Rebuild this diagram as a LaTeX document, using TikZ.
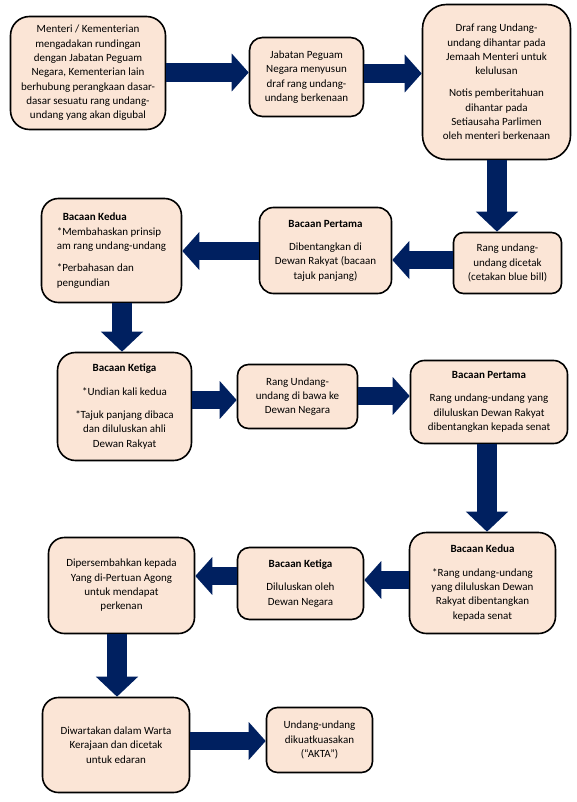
\documentclass[tikz,border=0pt]{standalone}
\usepackage{fontspec}
\setmainfont{Carlito}
\usetikzlibrary{arrows.meta}
\definecolor{navy}{HTML}{002060}
\definecolor{peach}{HTML}{FBE5D6}

\begin{document}
\begin{tikzpicture}[x=1pt,y=-1pt,
 box/.style={draw=black,line width=1.6pt,rounded corners=#1,fill=peach,align=center,
 font=\fontsize{11}{14.3}\selectfont,inner sep=0pt},
 box/.default=12pt,
 flowh/.style={draw=navy,line width=18.5pt,-{Triangle[width=37pt,length=17pt]}},
 flowv/.style={draw=navy,line width=20pt,-{Triangle[width=41pt,length=20pt]}}]
\useasboundingbox (0,0) rectangle (576,802);
\node[box=19pt,minimum width=155pt,minimum height=113pt] (menteri) at (88,73)
 {Menteri / Kementerian\\mengadakan rundingan\\dengan Jabatan Peguam\\Negara, Kementerian lain\\berhubung perangkaan dasar-\\dasar sesuatu rang undang-\\undang yang akan digubal};
\node[box=13pt,minimum width=114pt,minimum height=79pt] (jabatan) at (306.5,77)
 {Jabatan Peguam\\Negara menyusun\\draf rang undang-\\undang berkenaan};
\node[box=24pt,minimum width=148pt,minimum height=155pt] (draf) at (496.5,82)
 {Draf rang Undang-\\undang dihantar pada\\Jemaah Menteri untuk\\kelulusan\\[8pt]Notis pemberitahuan\\dihantar pada\\Setiausaha Parlimen\\oleh menteri berkenaan};
\node[box=10pt,minimum width=108pt,minimum height=61pt] (cetak) at (507.5,263)
 {Rang undang-\\undang dicetak\\(cetakan blue bill)};
\node[box=14pt,minimum width=132pt,minimum height=86pt] (pertamaDR) at (325.5,250.5)
 {\textbf{Bacaan Pertama}\\[9pt]Dibentangkan di\\Dewan Rakyat (bacaan\\tajuk panjang)};
\node[box=17pt,minimum width=140pt,minimum height=104pt,align=left] (keduaDR) at (111.5,250.5)
 {\hspace*{6pt}\textbf{Bacaan Kedua}\\{}*Membahaskan prinsip\\am rang undang-undang\\[8pt]*Perbahasan dan\\pengundian};
\node[box=18pt,minimum width=134pt,minimum height=108pt] (ketigaDR) at (124.5,406.5)
 {\textbf{Bacaan Ketiga}\\[9pt]*Undian kali kedua\\[9pt]*Tajuk panjang dibaca\\dan diluluskan ahli\\Dewan Rakyat};
\node[box=11pt,minimum width=120pt,minimum height=64pt] (bawa) at (297.5,396.5)
 {Rang Undang-\\undang di bawa ke\\Dewan Negara};
\node[box=14pt,minimum width=157pt,minimum height=83pt] (pertamaDN) at (489,402)
 {\textbf{Bacaan Pertama}\\[9pt]Rang undang-undang yang\\diluluskan Dewan Rakyat\\dibentangkan kepada senat};
\node[box=17pt,minimum width=146pt,minimum height=101pt] (keduaDN) at (482.5,583)
 {\textbf{Bacaan Kedua}\\[9pt]*Rang undang-undang\\yang diluluskan Dewan\\Rakyat dibentangkan\\kepada senat};
\node[box=12pt,minimum width=126pt,minimum height=72pt] (ketigaDN) at (300.5,583.5)
 {\textbf{Bacaan Ketiga}\\[9pt]Diluluskan oleh\\Dewan Negara};
\node[box=16pt,minimum width=146pt,minimum height=96pt] (agong) at (121.5,585.5)
 {Dipersembahkan kepada\\Yang di-Pertuan Agong\\untuk mendapat\\perkenan};
\node[box=16pt,minimum width=147pt,minimum height=95pt] (warta) at (116,745)
 {Diwartakan dalam Warta\\Kerajaan dan dicetak\\untuk edaran};
\node[box=11pt,minimum width=106pt,minimum height=65pt] (akta) at (319.5,740)
 {Undang-undang\\dikuatkuasakan\\(“AKTA”)};
% sideways steps
\foreach \a/\b/\y in {menteri.east/jabatan.west/72.5,jabatan.east/draf.west/73.5,
 cetak.west/pertamaDR.east/260,pertamaDR.west/keduaDR.east/251,
 ketigaDR.east/bawa.west/400,bawa.east/pertamaDN.west/396,
 keduaDN.west/ketigaDN.east/580,ketigaDN.west/agong.east/576,warta.east/akta.west/741}
  \draw[flowh] (\a |- 0,\y)--(\b |- 0,\y);
% downward steps
\foreach \a/\b/\x in {draf.south/cetak.north/497,keduaDR.south/ketigaDR.north/122,
 pertamaDN.south/keduaDN.north/487,agong.south/warta.north/117}
  \draw[flowv] (\a -| \x,0)--(\b -| \x,0);
\end{tikzpicture}
\end{document}
